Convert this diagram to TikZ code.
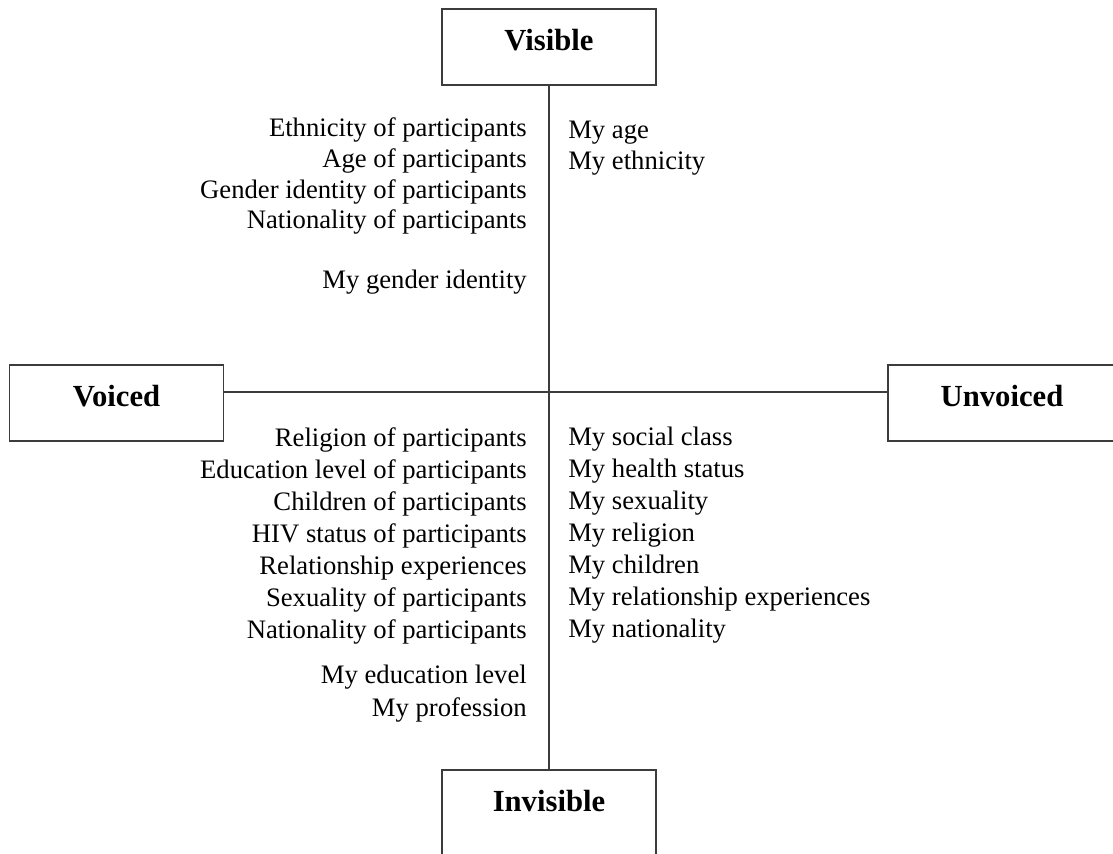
\documentclass[tikz,border=0pt]{standalone}
\usepackage{fontspec}
\setmainfont{Liberation Serif}
\usepackage{tikz}
\definecolor{axisGrey}{HTML}{3C3C3C}
\tikzset{
  pole/.style={draw=axisGrey, line width=1pt, inner sep=0pt, minimum width=214*0.75pt,
    text height=41*0.75pt, text depth=35*0.75pt, font=\fontsize{23}{27}\selectfont\bfseries},
  axis/.style={axisGrey, line width=1pt},
  lbl/.style={inner sep=0pt, font=\fontsize{20}{24}\selectfont},
}

\begin{document}
\begin{tikzpicture}[x=0.75pt, y=-0.75pt]
  \useasboundingbox (0,0) rectangle (1113,853);
  \clip (0,0) rectangle (1113,853);
  % the four poles
  \node[pole] (visible) at (549,47) {Visible};
  \node[pole] (voiced) at (116.5,403) {Voiced};
  \node[pole, minimum width=260*0.75pt] (unvoiced) at (1018,403) {Unvoiced\hspace*{24pt}};
  \node[pole, text depth=60*0.75pt] (invisible) at (549,820.5) {Invisible};
  \coordinate (cross) at (549,392);
  \draw[axis] (visible) -- (invisible);
  \draw[axis] (voiced.east |- cross) -- (unvoiced.west |- cross);
  % visible and voiced
  \foreach \t [count=\i] in {Ethnicity of participants, Age of participants,
      Gender identity of participants, Nationality of participants}
    \node[lbl, anchor=base east] (vv-\i) at (527,136.5+30.8*\i-30.8) {\t};
  \node[lbl, anchor=base east] (vv-own) at (527,288) {My gender identity};
  % visible and unvoiced
  \foreach \t [count=\i] in {My age, My ethnicity}
    \node[lbl, anchor=base west] (vu-\i) at (568,138+31.5*\i-31.5) {\t};
  % invisible and voiced
  \foreach \t [count=\i] in {Religion of participants, Education level of participants,
      Children of participants, HIV status of participants, Relationship experiences,
      Sexuality of participants, Nationality of participants}
    \node[lbl, anchor=base east] (iv-\i) at (527,446+32*\i-32) {\t};
  \foreach \t [count=\i] in {My education level, My profession}
    \node[lbl, anchor=base east] (iv-own-\i) at (527,683+33*\i-33) {\t};
  % invisible and unvoiced
  \foreach \t [count=\i] in {My social class, My health status, My sexuality, My religion,
      My children, My relationship experiences, My nationality}
    \node[lbl, anchor=base west] (iu-\i) at (568,445+32*\i-32) {\t};
\end{tikzpicture}
\end{document}
